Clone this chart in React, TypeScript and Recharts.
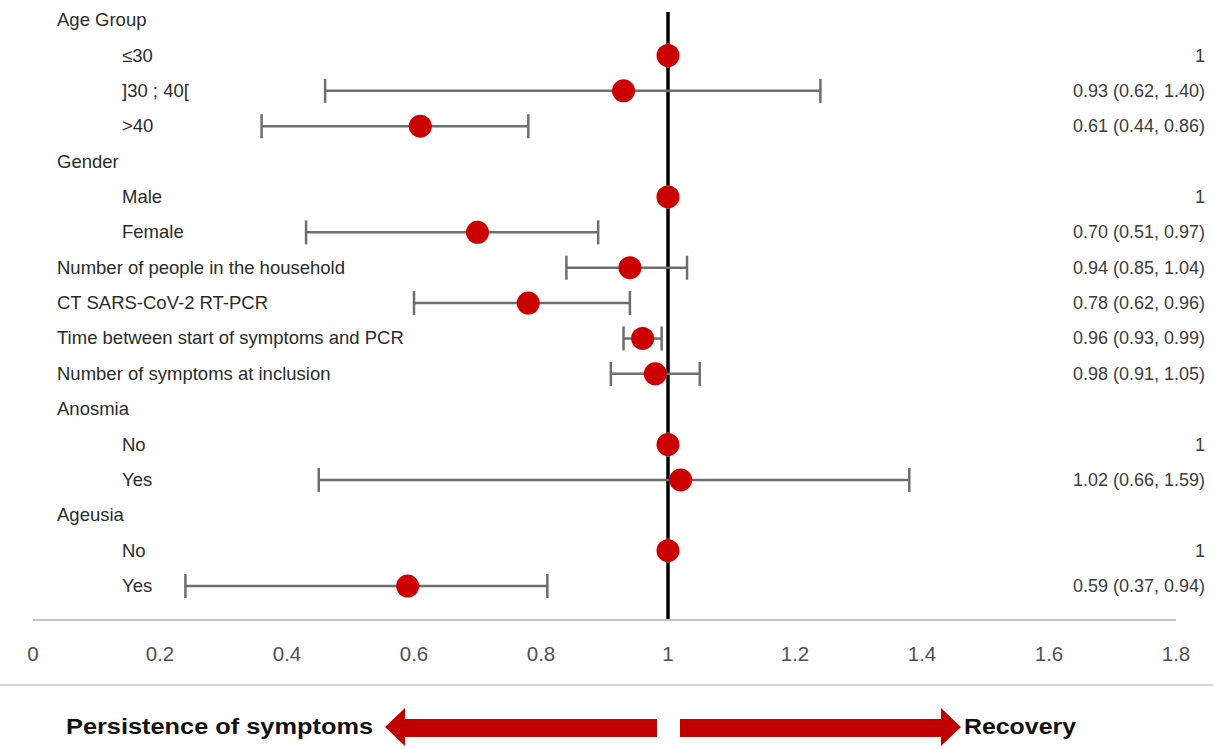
import React from 'react';
import { ComposedChart, Scatter, ErrorBar, XAxis, YAxis, ReferenceLine } from 'recharts';

// rows, top to bottom
const rowLabels = [
  'Age Group',
  '≤30',
  ']30 ; 40[',
  '>40',
  'Gender',
  'Male',
  'Female',
  'Number of people in the household',
  'CT SARS-CoV-2 RT-PCR',
  'Time between start of symptoms and PCR',
  'Number of symptoms at inclusion',
  'Anosmia',
  'No',
  'Yes',
  'Ageusia',
  'No',
  'Yes',
];
const isSubItem = [false, true, true, true, false, true, true, false, false, false, false, false, true, true, false, true, true];

// odds ratio (dot) and whisker ends as drawn
const oddsRatio = [null, 1, 0.93, 0.61, null, 1, 0.7, 0.94, 0.78, 0.96, 0.98, null, 1, 1.02, null, 1, 0.59];
const whiskerLow = [null, 1, 0.46, 0.36, null, 1, 0.43, 0.84, 0.6, 0.93, 0.91, null, 1, 0.45, null, 1, 0.24];
const whiskerHigh = [null, 1, 1.24, 0.78, null, 1, 0.89, 1.03, 0.94, 0.99, 1.05, null, 1, 1.38, null, 1, 0.81];

// printed values on the right
const valueText = [
  '',
  '1',
  '0.93 (0.62, 1.40)',
  '0.61 (0.44, 0.86)',
  '',
  '1',
  '0.70 (0.51, 0.97)',
  '0.94 (0.85, 1.04)',
  '0.78 (0.62, 0.96)',
  '0.96 (0.93, 0.99)',
  '0.98 (0.91, 1.05)',
  '',
  '1',
  '1.02 (0.66, 1.59)',
  '',
  '1',
  '0.59 (0.37, 0.94)',
];

const xTicks = [0, 0.2, 0.4, 0.6, 0.8, 1, 1.2, 1.4, 1.6, 1.8];
const rowTicks = rowLabels.map((_, i) => i);
const valueRows = rowTicks.filter((i) => valueText[i] !== '');

const FONT = '"Liberation Sans", Arial, sans-serif';

const points = rowTicks
  .filter((i) => oddsRatio[i] !== null)
  .map((i) => ({
    row: i,
    or: oddsRatio[i] as number,
    err: [(oddsRatio[i] as number) - (whiskerLow[i] as number), (whiskerHigh[i] as number) - (oddsRatio[i] as number)],
  }));

const LeftTick = (props: any) => {
  const { y, payload } = props;
  const i = payload.value;
  return (
    <text x={isSubItem[i] ? 122 : 57} y={y} dy={6} textAnchor="start" fontSize={18.5} fill="#2b2b2b" fontFamily={FONT}>
      {rowLabels[i]}
    </text>
  );
};

const RightTick = (props: any) => {
  const { y, payload } = props;
  return (
    <text x={1205} y={y} dy={6} textAnchor="end" fontSize={18} fill="#3c3c3c" fontFamily={FONT}>
      {valueText[payload.value]}
    </text>
  );
};

const Dot = (props: any) => <circle cx={props.cx} cy={props.cy} r={11.5} fill="#cc0000" />;

export default function App() {
  return (
    <div style={{ position: 'absolute', left: 0, top: 0, width: 1213, height: 749, background: '#fff', overflow: 'hidden' }}>
      <ComposedChart
        width={1213}
        height={749}
        layout="vertical"
        margin={{ top: 12, right: 0, bottom: 89, left: 0 }}
      >
        <XAxis
          type="number"
          dataKey="or"
          domain={[0, 1.8]}
          ticks={xTicks}
          height={40}
          tickLine={false}
          tickSize={6}
          tickMargin={20}
          axisLine={{ stroke: '#c4c4c4', strokeWidth: 2 }}
          tick={{ fontSize: 20.5, fill: '#505050', fontFamily: FONT }}
        />
        <YAxis
          yAxisId="left"
          type="number"
          dataKey="row"
          domain={[-0.23, 16.96]}
          allowDataOverflow
          ticks={rowTicks}
          interval={0}
          width={33}
          axisLine={false}
          tickLine={false}
          tick={<LeftTick />}
        />
        <YAxis
          yAxisId="right"
          orientation="right"
          type="number"
          dataKey="row"
          domain={[-0.23, 16.96]}
          allowDataOverflow
          ticks={valueRows}
          interval={0}
          width={37}
          axisLine={false}
          tickLine={false}
          tick={<RightTick />}
        />
        <ReferenceLine yAxisId="left" x={1} stroke="#000" strokeWidth={3.5} />
        <Scatter yAxisId="left" data={points} dataKey="or" shape={<Dot />} isAnimationActive={false}>
          <ErrorBar dataKey="err" direction="x" width={12} stroke="#6e6e6e" strokeWidth={2.5} isAnimationActive={false} />
        </Scatter>
      </ComposedChart>
      <svg width={1213} height={749} style={{ position: 'absolute', left: 0, top: 0, pointerEvents: 'none' }}>
        <line x1={0} x2={1213} y1={685} y2={685} stroke="#d6d6d6" strokeWidth={2} />
        <polygon points="385,727 405,708 405,719 657,719 657,737 405,737 405,746" fill="#c00000" />
        <polygon points="680,719 941,719 941,708 961,727 941,746 941,737 680,737" fill="#c00000" />
        <text x={66} y={734} fontSize={22} fontWeight="bold" fill="#111" fontFamily={FONT} textLength={307} lengthAdjust="spacingAndGlyphs">
          Persistence of symptoms
        </text>
        <text x={964} y={734} fontSize={22} fontWeight="bold" fill="#111" fontFamily={FONT} textLength={112} lengthAdjust="spacingAndGlyphs">
          Recovery
        </text>
      </svg>
    </div>
  );
}
